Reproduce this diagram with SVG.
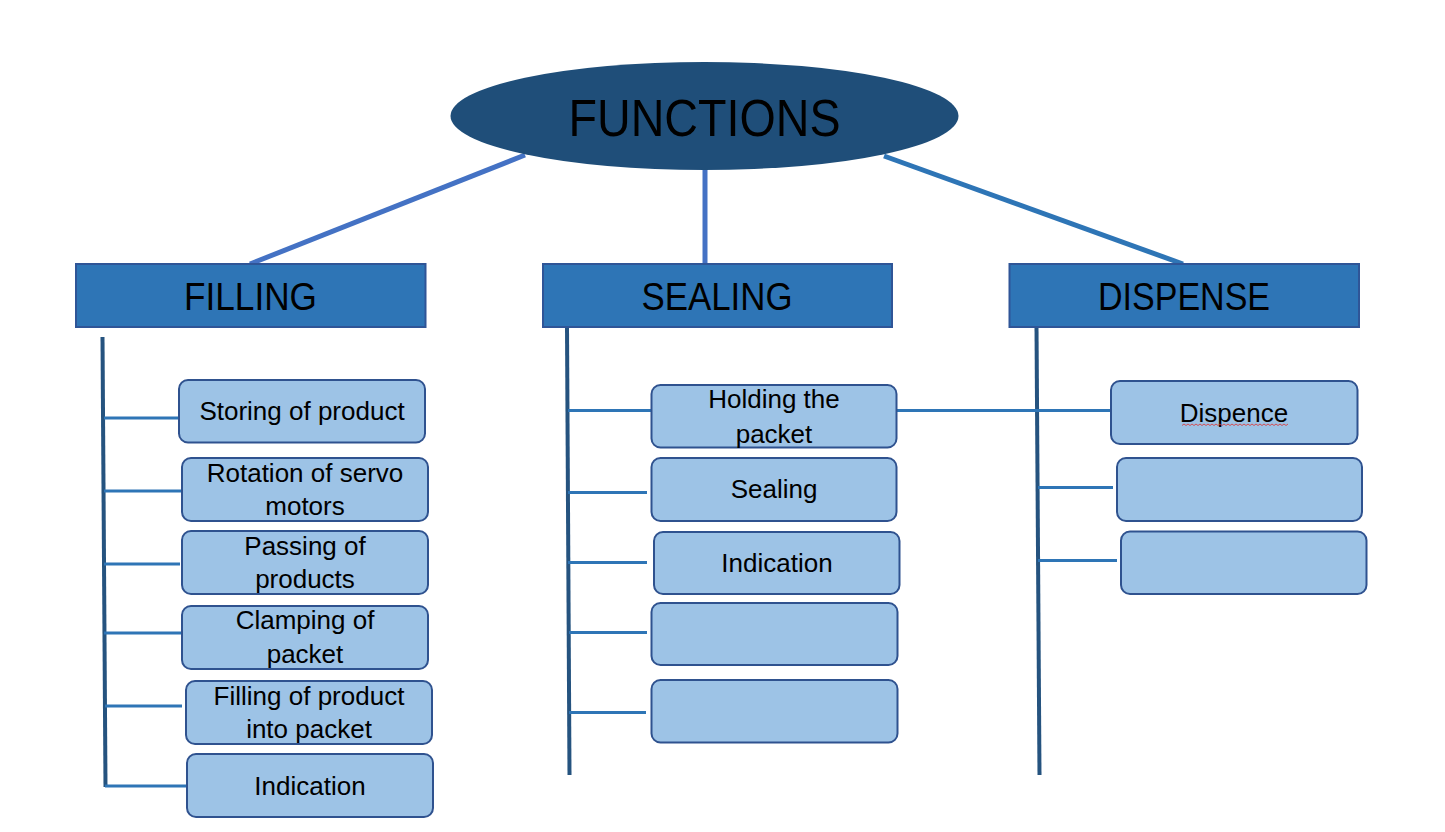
<svg xmlns="http://www.w3.org/2000/svg" width="1445" height="832" viewBox="0 0 1445 832">
<style>
.hdr{fill:#2E75B6;stroke:#2F5597;stroke-width:2}
.box{fill:#9DC3E6;stroke:#2F528F;stroke-width:2}
.t{font-family:"Liberation Sans",Arial,sans-serif;font-size:26px;fill:#000;text-anchor:middle}
.h{font-family:"Liberation Sans",Arial,sans-serif;font-size:38px;fill:#000;text-anchor:middle}
.trunk{stroke:#25537F;stroke-width:4;fill:none}
.br{stroke:#2E75B6;stroke-width:3;fill:none}
.top{stroke-width:5;fill:none}
</style>
<rect width="1445" height="832" fill="#fff"/>
<g id="connectors">
<line class="top" x1="525" y1="155" x2="250" y2="264" stroke="#4472C4"/>
<line class="top" x1="705" y1="170" x2="705" y2="264" stroke="#4472C4"/>
<line class="top" x1="884" y1="156" x2="1183" y2="264" stroke="#2E75B6"/>
<line class="trunk" x1="102.5" y1="337" x2="105.5" y2="787"/>
<line class="trunk" x1="567" y1="327" x2="569.5" y2="775"/>
<line class="trunk" x1="1036.5" y1="327" x2="1039.5" y2="775"/>
<line class="br" x1="104" y1="418" x2="179" y2="418"/>
<line class="br" x1="104" y1="491" x2="182" y2="491"/>
<line class="br" x1="104" y1="564" x2="180" y2="564"/>
<line class="br" x1="104" y1="633" x2="182" y2="633"/>
<line class="br" x1="105" y1="706" x2="182" y2="706"/>
<line class="br" x1="105" y1="786" x2="187" y2="786"/>
<line class="br" x1="568" y1="410.5" x2="651" y2="410.5"/>
<line class="br" x1="568" y1="492.5" x2="647" y2="492.5"/>
<line class="br" x1="568" y1="562.5" x2="647" y2="562.5"/>
<line class="br" x1="569" y1="632.5" x2="647" y2="632.5"/>
<line class="br" x1="569" y1="712.5" x2="646" y2="712.5"/>
<line class="br" x1="896" y1="410.5" x2="1111" y2="410.5"/>
<line class="br" x1="1038" y1="487.5" x2="1113" y2="487.5"/>
<line class="br" x1="1038" y1="560.5" x2="1117" y2="560.5"/>
</g>
<g id="functions">
<ellipse cx="704.5" cy="116" rx="254" ry="54" fill="#1F4E79"/>
<text x="704.5" y="136" font-family="Liberation Sans,Arial,sans-serif" font-size="52" text-anchor="middle" textLength="272" lengthAdjust="spacingAndGlyphs" fill="#000">FUNCTIONS</text>
</g>
<g id="filling">
<rect class="hdr" x="76" y="264" width="349.5" height="63"/>
<text class="h" x="250.5" y="310" textLength="133" lengthAdjust="spacingAndGlyphs">FILLING</text>
</g>
<g id="sealing">
<rect class="hdr" x="543" y="264" width="349" height="63"/>
<text class="h" x="717" y="310" textLength="151" lengthAdjust="spacingAndGlyphs">SEALING</text>
</g>
<g id="dispense">
<rect class="hdr" x="1009.5" y="264" width="349.5" height="63"/>
<text class="h" x="1184" y="310" textLength="172" lengthAdjust="spacingAndGlyphs">DISPENSE</text>
</g>
<g id="f1"><rect class="box" x="179" y="380" width="246" height="62.5" rx="9"/><text class="t" x="302" y="420">Storing of product</text></g>
<g id="f2"><rect class="box" x="182" y="458" width="246" height="63" rx="9"/><text class="t" x="305" y="482">Rotation of servo</text><text class="t" x="305" y="515">motors</text></g>
<g id="f3"><rect class="box" x="182" y="531" width="246" height="63" rx="9"/><text class="t" x="305" y="555">Passing of</text><text class="t" x="305" y="588">products</text></g>
<g id="f4"><rect class="box" x="182" y="606" width="246" height="63" rx="9"/><text class="t" x="305" y="629">Clamping of</text><text class="t" x="305" y="663">packet</text></g>
<g id="f5"><rect class="box" x="186" y="681" width="246" height="63" rx="9"/><text class="t" x="309" y="705">Filling of product</text><text class="t" x="309" y="738">into packet</text></g>
<g id="f6"><rect class="box" x="187" y="754" width="246" height="63" rx="9"/><text class="t" x="310" y="795">Indication</text></g>
<g id="s1"><rect class="box" x="651.5" y="385" width="245" height="62.5" rx="9"/><text class="t" x="774" y="408">Holding the</text><text class="t" x="774" y="442.5">packet</text></g>
<g id="s2"><rect class="box" x="651.5" y="458" width="245" height="63" rx="9"/><text class="t" x="774" y="498">Sealing</text></g>
<g id="s3"><rect class="box" x="654" y="532" width="245.5" height="62" rx="9"/><text class="t" x="777" y="572">Indication</text></g>
<g id="s4"><rect class="box" x="651.5" y="603" width="246" height="62" rx="9"/></g>
<g id="s5"><rect class="box" x="651.5" y="680" width="246" height="62.5" rx="9"/></g>
<g id="d1"><rect class="box" x="1111" y="381" width="246.5" height="63" rx="9"/><text class="t" x="1234" y="421.5">Dispence</text>
<path d="M1182 425.5 l2 -1.5 l2 1.5 l2 -1.5 l2 1.5 l2 -1.5 l2 1.5 l2 -1.5 l2 1.5 l2 -1.5 l2 1.5 l2 -1.5 l2 1.5 l2 -1.5 l2 1.5 l2 -1.5 l2 1.5 l2 -1.5 l2 1.5 l2 -1.5 l2 1.5 l2 -1.5 l2 1.5 l2 -1.5 l2 1.5 l2 -1.5 l2 1.5 l2 -1.5 l2 1.5 l2 -1.5 l2 1.5 l2 -1.5 l2 1.5 l2 -1.5 l2 1.5 l2 -1.5 l2 1.5 l2 -1.5 l2 1.5 l2 -1.5 l2 1.5 l2 -1.5 l2 1.5 l2 -1.5 l2 1.5 l2 -1.5 l2 1.5 l2 -1.5 l2 1.5 l2 -1.5 l2 1.5 l2 -1.5 l2 1.5 l2 -1.5" fill="none" stroke="#E03030" stroke-width="0.8"/></g>
<g id="d2"><rect class="box" x="1117" y="458" width="245" height="63" rx="9"/></g>
<g id="d3"><rect class="box" x="1121" y="531.5" width="245.5" height="62.5" rx="9"/></g>
</svg>
